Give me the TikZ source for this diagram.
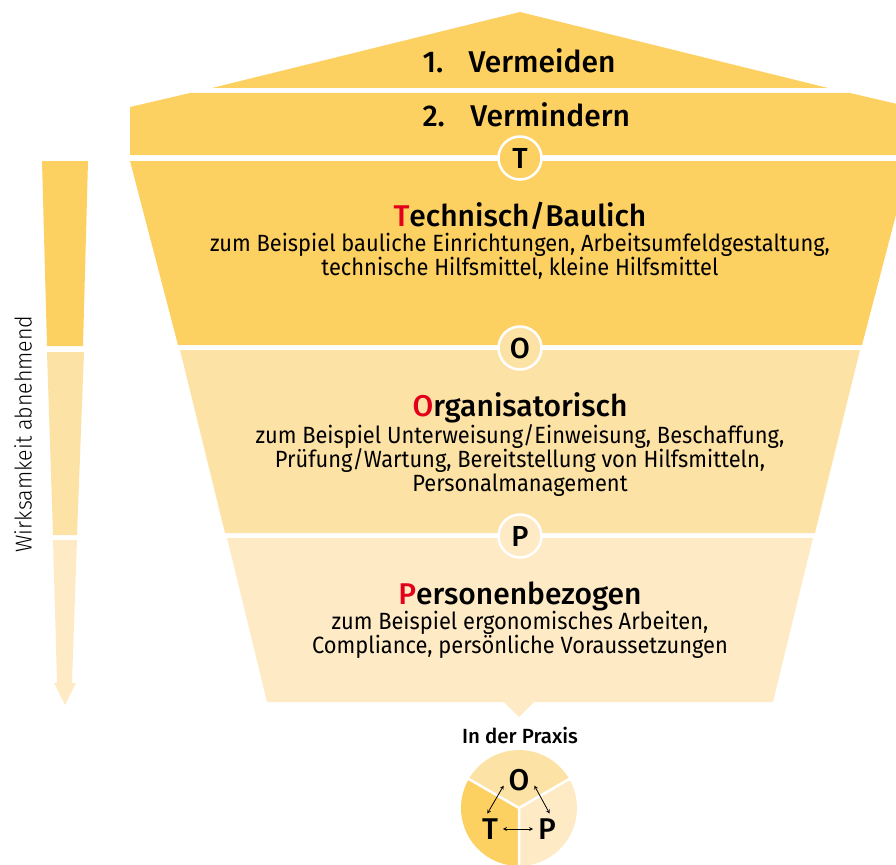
\documentclass[tikz,border=0pt]{standalone}
\usepackage{fontspec}
\setmainfont{Fira Sans}[BoldFont={Fira Sans Medium}]
\newfontfamily\condfont{Fira Sans}[FakeStretch=0.93]
\newfontfamily\lightfont{Fira Sans Light}[FakeStretch=0.93]
\definecolor{darkband}{RGB}{253,208,98}
\definecolor{midband}{RGB}{253,226,166}
\definecolor{lightband}{RGB}{254,235,198}
\definecolor{topred}{RGB}{226,0,26}
\tikzset{
    heading/.style={font=\bfseries\fontsize{30}{32}\selectfont},
    detail/.style={align=center,font=\condfont\fontsize{23.5}{24}\selectfont},
    ringletter/.style={circle,draw=white,line width=2.5pt,minimum size=43pt,inner sep=0pt,font=\bfseries\fontsize{29}{29}\selectfont},
    pieletter/.style={inner sep=1pt,outer sep=4pt,font=\bfseries\fontsize{30}{30}\selectfont},
    pielink/.style={<->,>=stealth,line width=0.8pt,black},
}
\begin{document}
\begin{tikzpicture}[x=1pt,y=-1pt]
    \useasboundingbox (0,0) rectangle (896,864);
    \clip (0,0) rectangle (896,864);
    \fill[darkband] (520,12) -- (828,88) -- (212,88) -- cycle;
    \fill[darkband] (130,107) -- (190,93) -- (850,93) -- (910,107) -- (910,155) -- (130,155) -- cycle;
    \fill[darkband] (130,161) -- (910,161) -- (862,345) -- (178,345) -- cycle;
    \fill[midband] (180,350) -- (860,350) -- (815,533) -- (225,533) -- cycle;
    \fill[lightband] (227,538) -- (813,538) -- (773,702) -- (534,702) -- (519,717) -- (504,702) -- (267,702) -- cycle;
    \fill[darkband] (42,161) -- (88,161) -- (83,346) -- (47,346) -- cycle;
    \fill[midband] (47,352) -- (84,352) -- (77,535) -- (53,535) -- cycle;
    \fill[lightband] (53,540) -- (77,540) -- (72,683) -- (76,683) -- (65,705) -- (54,683) -- (57,683) -- cycle;
    \node[rotate=90,font=\lightfont\fontsize{23}{23}\selectfont] (wirk) at (23,434) {Wirksamkeit abnehmend};
    \node[heading,anchor=base west] (avoid) at (419,73) {1.\hspace{0.85em}Vermeiden};
    \node[heading,anchor=base west] (reduce) at (419,127) {2.\hspace{0.85em}Vermindern};
    \node[ringletter,fill=darkband] (tRing) at (520,158) {T};
    \node[ringletter,fill=midband] (oRing) at (520,348) {O};
    \node[ringletter,fill=lightband] (pRing) at (520,536) {P};
    \node[heading] (tHead) at (520,216) {\textcolor{topred}{T}echnisch/Baulich};
    \node[detail] (tText) at (520,256) {zum Beispiel bauliche Einrichtungen, Arbeitsumfeldgestaltung,\\technische Hilfsmittel, kleine Hilfsmittel};
    \node[heading] (oHead) at (520,408) {\textcolor{topred}{O}rganisatorisch};
    \node[detail] (oText) at (520,461) {zum Beispiel Unterweisung/Einweisung, Beschaffung,\\Prüfung/Wartung, Bereitstellung von Hilfsmitteln,\\Personalmanagement};
    \node[heading] (pHead) at (520,596) {\textcolor{topred}{P}ersonenbezogen};
    \node[detail] (pText) at (520,635) {zum Beispiel ergonomisches Arbeiten,\\Compliance, persönliche Voraussetzungen};
    \node[font=\bfseries\fontsize{20.5}{20.5}\selectfont] (praxis) at (520,735) {In der Praxis};
    \coordinate (pie) at (519,808);
    \fill[midband] (pie) -- ++(-30:58) arc (-30:-150:58) -- cycle;
    \fill[darkband] (pie) -- ++(-150:58) arc (-150:-270:58) -- cycle;
    \fill[lightband] (pie) -- ++(-270:58) arc (-270:-390:58) -- cycle;
    \draw[white,line width=2.5pt] (pie) -- ++(-30:60) (pie) -- ++(-150:60) (pie) -- ++(90:60);
    \node[pieletter] (oPie) at (519,780) {O};
    \node[pieletter] (tPie) at (490,829) {T};
    \node[pieletter] (pPie) at (547,829) {P};
    \draw[pielink] (oPie.200) -- (tPie.100);
    \draw[pielink] (oPie.340) -- (pPie.80);
    \draw[pielink] (tPie) -- (pPie);
\end{tikzpicture}
\end{document}
